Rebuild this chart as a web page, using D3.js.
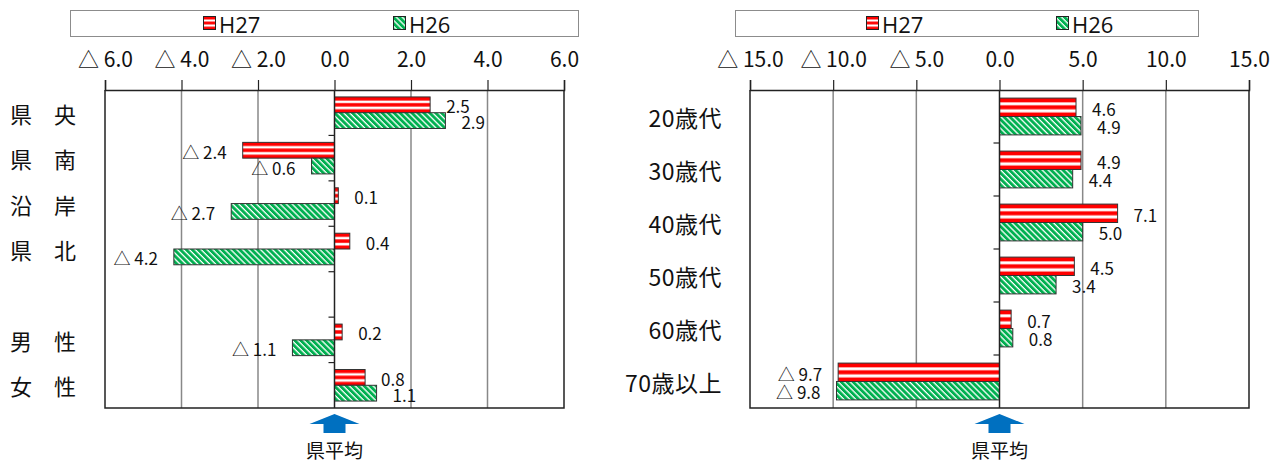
<!DOCTYPE html>
<html lang="ja">
<head>
<meta charset="utf-8">
<script src="https://cdn.jsdelivr.net/npm/d3@7"></script>
<style>
  html, body { margin: 0; padding: 0; background: #fff; }
  svg { display: block; font-family: "Noto Sans CJK JP", "Noto Sans", sans-serif; }
</style>
</head>
<body>
<svg id="chart" width="1287" height="463"></svg>
<script>
// 地域・性別の差（県平均との差）
const regionCategories = ["県　央", "県　南", "沿　岸", "県　北", "", "男　性", "女　性"];
const regionH27 = [2.5, -2.4, 0.1, 0.4, null, 0.2, 0.8];
const regionH26 = [2.9, -0.6, -2.7, -4.2, null, -1.1, 1.1];
const regionTicks = [-6, -4, -2, 0, 2, 4, 6];

// 年代別の差（県平均との差）
const ageCategories = ["20歳代", "30歳代", "40歳代", "50歳代", "60歳代", "70歳以上"];
const ageH27 = [4.6, 4.9, 7.1, 4.5, 0.7, -9.7];
const ageH26 = [4.9, 4.4, 5.0, 3.4, 0.8, -9.8];
const ageTicks = [-15, -10, -5, 0, 5, 10, 15];

const seriesNames = ["H27", "H26"];
const averageLabel = "県平均";

const fmt = v => (v < 0 ? "△ " : "") + Math.abs(v).toFixed(1);

const svg = d3.select("#chart");
const defs = svg.append("defs");

// H27: 赤の横縞（棒の高さに合わせて 赤・白・赤・白・赤）
const pRed = defs.append("pattern")
  .attr("id", "pat-h27")
  .attr("patternUnits", "objectBoundingBox")
  .attr("patternContentUnits", "objectBoundingBox")
  .attr("width", 1).attr("height", 1);
pRed.append("rect").attr("width", 1).attr("height", 1).attr("fill", "#fff");
[[0, 0.23], [0.39, 0.22], [0.78, 0.22]].forEach(([y0, h]) =>
  pRed.append("rect").attr("x", 0).attr("y", y0).attr("width", 1).attr("height", h).attr("fill", "#ff0000"));

// H26: 緑の斜線
const pGreen = defs.append("pattern")
  .attr("id", "pat-h26").attr("patternUnits", "userSpaceOnUse")
  .attr("width", 4.2).attr("height", 8)
  .attr("patternTransform", "rotate(-45)");
pGreen.append("rect").attr("width", 4.2).attr("height", 8).attr("fill", "#fff");
pGreen.append("rect").attr("width", 2.9).attr("height", 8).attr("fill", "#00b050");

const fills = { H27: "url(#pat-h27)", H26: "url(#pat-h26)" };

function drawChart(cfg) {
  const g = svg.append("g");
  const x = d3.scaleLinear().domain(cfg.domain).range([cfg.left, cfg.right]);
  const y = d3.scaleBand().domain(d3.range(cfg.categories.length)).range([cfg.top, cfg.bottom]);
  const ys = d3.scaleBand().domain(seriesNames).range([0, y.bandwidth()]).paddingOuter(0.44);

  // 凡例
  g.append("rect")
    .attr("x", cfg.legend.x0 + 0.5).attr("y", 10.5)
    .attr("width", cfg.legend.x1 - cfg.legend.x0).attr("height", 26)
    .attr("fill", "#fff").attr("stroke", "#8c8c8c").attr("stroke-width", 1);
  seriesNames.forEach((s, i) => {
    const sx = cfg.legend.items[i];
    g.append("rect").attr("x", sx + 0.5).attr("y", 16.5).attr("width", 12).attr("height", 13)
      .attr("fill", fills[s]).attr("stroke", "#222").attr("stroke-width", 1);
    g.append("text").attr("x", sx + 16).attr("y", 24).attr("dominant-baseline", "central")
      .attr("font-size", 22).attr("font-family", "'Open Sans', 'Noto Sans', sans-serif")
      .attr("fill", "#111").text(s);
  });

  // 目盛線
  g.append("g").selectAll("line").data(cfg.ticks.filter(t => t !== cfg.domain[0] && t !== cfg.domain[1] && t !== 0))
    .join("line")
    .attr("x1", d => x(d)).attr("x2", d => x(d))
    .attr("y1", cfg.top).attr("y2", cfg.bottom)
    .attr("stroke", "#888").attr("stroke-width", 1.5);

  // 上側の軸
  const axis = d3.axisTop(x).tickValues(cfg.ticks).tickSize(10).tickPadding(13).tickFormat(fmt);
  const ag = g.append("g").attr("transform", `translate(0,${cfg.top})`).call(axis);
  ag.select(".domain").attr("stroke", "#222").attr("stroke-width", 1.5);
  ag.selectAll(".tick line").attr("stroke", "#222").attr("stroke-width", 1.2);
  ag.selectAll(".tick text").attr("font-size", 21).attr("fill", "#111")
    .attr("font-family", "'Noto Sans CJK JP', sans-serif");

  // 枠
  g.append("path")
    .attr("d", `M${cfg.left},${cfg.top}V${cfg.bottom}H${cfg.right}V${cfg.top}`)
    .attr("fill", "none").attr("stroke", "#222").attr("stroke-width", 1.5);

  // 棒と値ラベル
  cfg.categories.forEach((c, i) => {
    seriesNames.forEach((s, j) => {
      const v = cfg.values[j][i];
      if (v == null) return;
      const by = y(i) + ys(s);
      g.append("rect")
        .attr("x", x(Math.min(0, v))).attr("y", by)
        .attr("width", Math.abs(x(v) - x(0))).attr("height", ys.bandwidth())
        .attr("fill", fills[s]).attr("stroke", "#333").attr("stroke-width", 1);
      g.append("text")
        .attr("x", x(v) + (v < 0 ? -16 : 16))
        .attr("y", by + ys.bandwidth() / 2 + 1)
        .attr("text-anchor", v < 0 ? "end" : "start")
        .attr("dominant-baseline", "central")
        .attr("font-size", 17).attr("fill", "#111")
        .text(fmt(v));
    });
  });

  // 中心線と区切り目盛
  g.append("line").attr("x1", x(0)).attr("x2", x(0)).attr("y1", cfg.top).attr("y2", cfg.bottom)
    .attr("stroke", "#222").attr("stroke-width", 1.5);
  g.append("g").selectAll("line").data(d3.range(1, cfg.categories.length)).join("line")
    .attr("x1", x(0) - 6).attr("x2", x(0))
    .attr("y1", d => cfg.top + d * y.step()).attr("y2", d => cfg.top + d * y.step())
    .attr("stroke", "#222").attr("stroke-width", 1.2);

  // 項目名
  g.append("g").selectAll("text").data(cfg.categories).join("text")
    .attr("x", cfg.labelX).attr("y", (d, i) => y(i) + y.bandwidth() / 2)
    .attr("text-anchor", cfg.labelAnchor)
    .attr("dominant-baseline", "central")
    .attr("font-size", cfg.labelSize).attr("fill", "#111")
    .attr("letter-spacing", cfg.letterSpacing)
    .text(d => d);

  // 県平均の矢印
  const ax = x(0);
  g.append("path")
    .attr("d", `M${ax},${414}L${ax + 25},${424}L${ax + 11},${424}L${ax + 11},${433}L${ax - 11},${433}L${ax - 11},${424}L${ax - 25},${424}Z`)
    .attr("fill", "#0070c0");
  g.append("text").attr("x", ax).attr("y", 449)
    .attr("text-anchor", "middle").attr("dominant-baseline", "central")
    .attr("font-size", 19).attr("fill", "#111").text(averageLabel);
}

drawChart({
  categories: regionCategories,
  values: [regionH27, regionH26],
  ticks: regionTicks,
  domain: [-6, 6],
  left: 105, right: 564, top: 90, bottom: 408,
  legend: { x0: 70, x1: 578, items: [203, 393] },
  labelX: 10, labelAnchor: "start", labelSize: 22, letterSpacing: 0
});

drawChart({
  categories: ageCategories,
  values: [ageH27, ageH26],
  ticks: ageTicks,
  domain: [-15, 15],
  left: 750, right: 1249, top: 90, bottom: 408,
  legend: { x0: 735, x1: 1198, items: [866, 1056] },
  labelX: 722, labelAnchor: "end", labelSize: 23, letterSpacing: 0.5
});
</script>
</body>
</html>
